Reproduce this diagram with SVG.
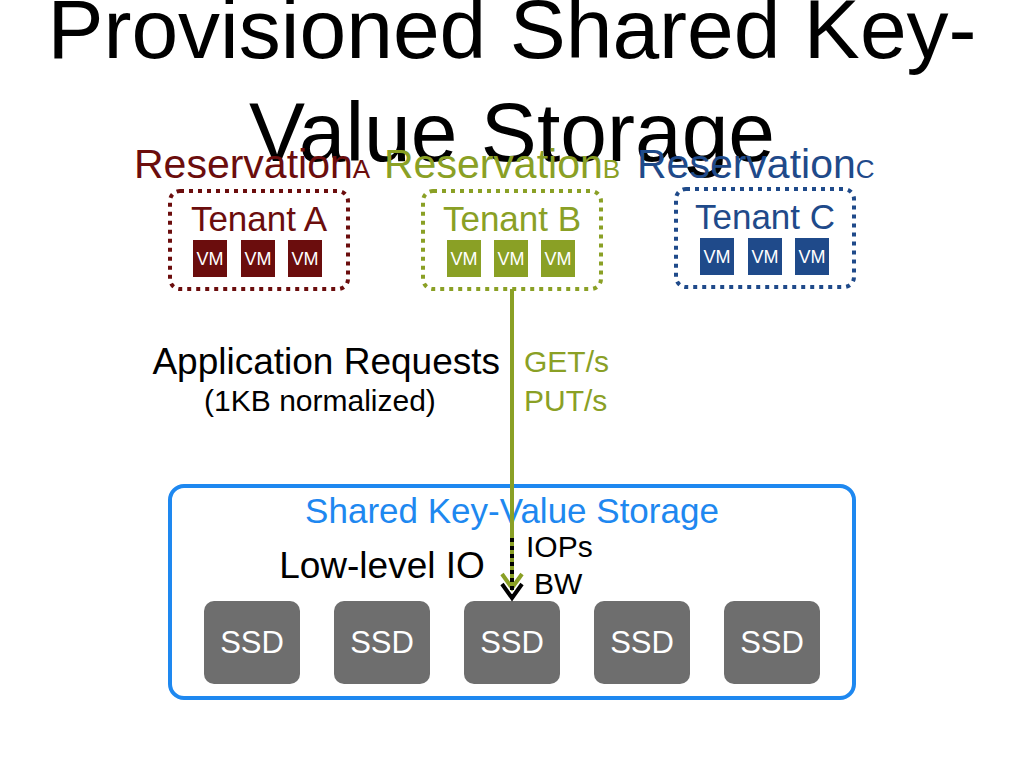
<svg xmlns="http://www.w3.org/2000/svg" width="1024" height="768" viewBox="0 0 1024 768">
<style>
text{font-family:"Liberation Sans",Arial,sans-serif}
.vm{font-size:18px;fill:#fff;text-anchor:middle}
.ssd{font-size:31px;fill:#fff;text-anchor:middle}
.ten{font-size:35px;text-anchor:middle}
.res{font-size:41px}
.sub{font-size:26px}
</style>
<rect width="1024" height="768" fill="#fff"/>
<text x="512" y="58" font-size="84" text-anchor="middle">Provisioned Shared Key-</text>
<text x="512" y="161" font-size="84" text-anchor="middle">Value Storage</text>
<text x="134" y="178" class="res" fill="#6b0d0d">Reservation<tspan class="sub">A</tspan></text>
<text x="384" y="178" class="res" fill="#8aa025">Reservation<tspan class="sub">B</tspan></text>
<text x="637" y="178" class="res" fill="#1f4a8a">Reservation<tspan class="sub">C</tspan></text>
<g id="tenantA">
<rect x="170" y="191" width="178" height="98" rx="10" fill="none" stroke="#6b0d0d" stroke-width="4" stroke-dasharray="4 5"/>
<text x="259" y="231" class="ten" fill="#6b0d0d">Tenant A</text>
<rect x="193" y="240" width="34" height="37" fill="#6b0d0d"/><text x="210" y="265" class="vm">VM</text>
<rect x="241" y="240" width="34" height="37" fill="#6b0d0d"/><text x="258" y="265" class="vm">VM</text>
<rect x="288" y="240" width="34" height="37" fill="#6b0d0d"/><text x="305" y="265" class="vm">VM</text>
</g>
<g id="tenantB">
<rect x="423" y="191" width="178" height="98" rx="10" fill="none" stroke="#8aa025" stroke-width="4" stroke-dasharray="4 5"/>
<text x="512" y="231" class="ten" fill="#8aa025">Tenant B</text>
<rect x="447" y="240" width="34" height="37" fill="#8aa025"/><text x="464" y="265" class="vm">VM</text>
<rect x="494" y="240" width="34" height="37" fill="#8aa025"/><text x="511" y="265" class="vm">VM</text>
<rect x="541" y="240" width="34" height="37" fill="#8aa025"/><text x="558" y="265" class="vm">VM</text>
</g>
<g id="tenantC">
<rect x="676" y="189" width="178" height="98" rx="10" fill="none" stroke="#1f4a8a" stroke-width="4" stroke-dasharray="4 5"/>
<text x="765" y="229" class="ten" fill="#1f4a8a">Tenant C</text>
<rect x="700" y="238" width="34" height="37" fill="#1f4a8a"/><text x="717" y="263" class="vm">VM</text>
<rect x="748" y="238" width="34" height="37" fill="#1f4a8a"/><text x="765" y="263" class="vm">VM</text>
<rect x="795" y="238" width="34" height="37" fill="#1f4a8a"/><text x="812" y="263" class="vm">VM</text>
</g>
<text x="500" y="374" font-size="37" text-anchor="end">Application Requests</text>
<text x="320" y="411" font-size="30" text-anchor="middle">(1KB normalized)</text>
<text x="524" y="372" font-size="30" fill="#8aa025">GET/s</text>
<text x="524" y="411" font-size="30" fill="#8aa025">PUT/s</text>
<g id="storage">
<rect x="170" y="486" width="684" height="212" rx="14" fill="none" stroke="#1e88f0" stroke-width="4"/>
<text x="512" y="523" font-size="35" fill="#1e88f0" text-anchor="middle">Shared Key-Value Storage</text>
<text x="382" y="578" font-size="37" text-anchor="middle">Low-level IO</text>
<text x="526" y="557" font-size="30">IOPs</text>
<text x="534" y="594" font-size="30">BW</text>
<rect x="204" y="601" width="96" height="83" rx="10" fill="#6e6e6e"/><text x="252" y="653" class="ssd">SSD</text>
<rect x="334" y="601" width="96" height="83" rx="10" fill="#6e6e6e"/><text x="382" y="653" class="ssd">SSD</text>
<rect x="464" y="601" width="96" height="83" rx="10" fill="#6e6e6e"/><text x="512" y="653" class="ssd">SSD</text>
<rect x="594" y="601" width="96" height="83" rx="10" fill="#6e6e6e"/><text x="642" y="653" class="ssd">SSD</text>
<rect x="724" y="601" width="96" height="83" rx="10" fill="#6e6e6e"/><text x="772" y="653" class="ssd">SSD</text>
</g>
<g id="connectors" fill="none">
<line x1="512" y1="289" x2="512" y2="588" stroke="#8aa025" stroke-width="4"/>
<polyline points="502,574 512,588 522,574" stroke="#8aa025" stroke-width="4"/>
<line x1="512" y1="538" x2="512" y2="596" stroke="#000" stroke-width="4" stroke-dasharray="4 4"/>
<polyline points="502,584 512,598 522,584" stroke="#000" stroke-width="4"/>
</g>
</svg>
